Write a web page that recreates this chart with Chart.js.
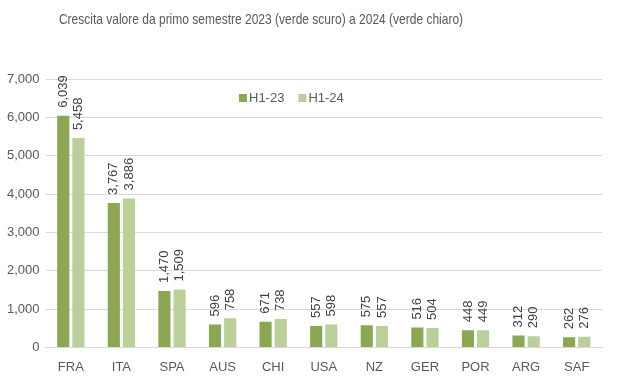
<!DOCTYPE html>
<html><head><meta charset="utf-8">
<script src="https://cdn.jsdelivr.net/npm/chart.js@4"></script>
<style>html,body{margin:0;padding:0;background:#fff}#w{width:629px;height:383px}</style>
</head><body><div id="w"><canvas id="c"></canvas></div>
<script>
const categories = ["FRA","ITA","SPA","AUS","CHI","USA","NZ","GER","POR","ARG","SAF"];
const h123 = [6039,3767,1470,596,671,557,575,516,448,312,262];
const h124 = [5458,3886,1509,758,738,598,557,504,449,290,276];
const seriesNames = ["H1-23","H1-24"];
const colors = ["#8BA753","#BACF99"];
const titleText = 'Crescita valore da primo semestre 2023 (verde scuro) a 2024 (verde chiaro)';
const FONT = "'Liberation Sans',sans-serif";
const fmt = v => v.toLocaleString('en-US');

const labelPlugin = {
  id: 'lbl',
  afterDatasetsDraw(chart) {
    const ctx = chart.ctx;
    ctx.save();
    ctx.fillStyle = '#404040';
    ctx.font = "13px " + FONT;
    chart.data.datasets.forEach((ds, i) => {
      chart.getDatasetMeta(i).data.forEach((el, j) => {
        ctx.save();
        ctx.translate(el.x, el.y - 8);
        ctx.rotate(-Math.PI / 2);
        ctx.textAlign = 'left';
        ctx.textBaseline = 'middle';
        ctx.fillText(fmt(ds.data[j]), 0, 0);
        ctx.restore();
      });
    });
    // legend
    let x = 239, y = 98;
    ctx.font = "13px " + FONT;
    ctx.textBaseline = 'middle';
    ctx.textAlign = 'left';
    chart.data.datasets.forEach((ds, i) => {
      ctx.fillStyle = ds.backgroundColor;
      ctx.fillRect(x, y - 4, 8, 8);
      ctx.fillStyle = '#595959';
      ctx.fillText(ds.label, x + 10, y);
      x += 10 + ctx.measureText(ds.label).width + 14;
    });
    // title (condensed)
    ctx.save();
    ctx.font = "15px " + FONT;
    ctx.fillStyle = '#595959';
    ctx.textAlign = 'center';
    ctx.textBaseline = 'middle';
    ctx.translate(261, 20);
    ctx.scale(0.8, 1);
    ctx.fillText(titleText, 0, 0);
    ctx.restore();
    ctx.restore();
  }
};

new Chart(document.getElementById('c'), {
  type: 'bar',
  data: {
    labels: categories,
    datasets: [
      { label: seriesNames[0], data: h123, backgroundColor: colors[0] },
      { label: seriesNames[1], data: h124, backgroundColor: colors[1] }
    ]
  },
  options: {
    responsive: true, maintainAspectRatio: false, animation: false,
    devicePixelRatio: 1,
    layout: { padding: { left: 1, right: 27, top: 79, bottom: 4 } },
    datasets: { bar: { categoryPercentage: 0.6, barPercentage: 0.8 } },
    plugins: {
      legend: { display: false },
      tooltip: { enabled: false },
      title: { display: false }
    },
    scales: {
      x: {
        grid: { display: false },
        border: { color: '#d9d9d9' },
        ticks: { color: '#595959', font: { family: FONT, size: 13 }, padding: 4 }
      },
      y: {
        min: 0, max: 7000,
        ticks: { stepSize: 1000, color: '#595959', font: { family: FONT, size: 13 }, callback: v => fmt(v), padding: 6 },
        grid: { color: '#d9d9d9', drawTicks: false },
        border: { display: false }
      }
    }
  },
  plugins: [labelPlugin]
});
</script></body></html>
